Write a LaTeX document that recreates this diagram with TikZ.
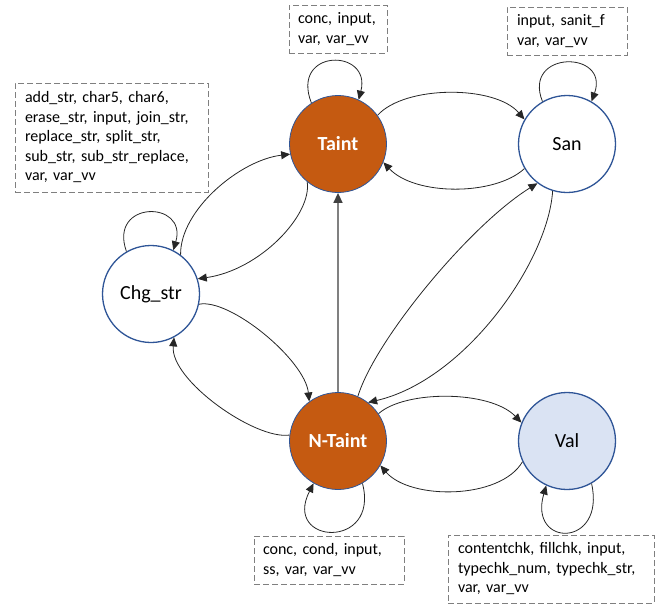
\documentclass[tikz,border=0pt]{standalone}
\usepackage{fontspec}
\setmainfont{Carlito}
\usetikzlibrary{arrows.meta}
\definecolor{orng}{HTML}{C55A11}
\definecolor{bord}{HTML}{2F5597}
\definecolor{valf}{HTML}{DAE3F3}
\definecolor{edgec}{HTML}{262626}
\definecolor{boxc}{HTML}{7F7F7F}
\definecolor{vline}{HTML}{808080}
\begin{document}
\begin{tikzpicture}[x=1pt,y=-1pt,
  state/.style={circle, minimum size=97pt, inner sep=0pt, font=\fontsize{20}{24}\selectfont},
  whitestate/.style={state, draw=bord, line width=1.3pt, fill=white},
  taintstate/.style={state, draw=bord, line width=0.8pt, fill=orng, text=white, font=\fontsize{20}{24}\selectfont\bfseries},
  valstate/.style={state, draw=bord, line width=1.3pt, fill=valf},
  labelbox/.style={draw=boxc, dash pattern=on 6pt off 3pt, line width=0.9pt, rectangle, inner sep=0pt, align=left, font=\fontsize{16}{19.5}\selectfont},
  edge/.style={draw=edgec, line width=0.8pt, -{Triangle[length=9pt,width=8pt]}},
  vedge/.style={draw=vline, line width=1.5pt, -{Triangle[length=10pt,width=9pt,color=black!75]}},
]
\useasboundingbox (0,0) rectangle (669,608);

% states
\node[taintstate] (T) at (338,144) {Taint};
\node[whitestate] (S) at (567,144) {San};
\node[whitestate] (C) at (151,294) {Chg\_str};
\node[taintstate] (N) at (338,441) {N-Taint};
\node[valstate] (V) at (567,441) {Val};

% label boxes
\node[labelbox, minimum width=193pt, minimum height=109pt, text width=173pt] (bc) at (111.5,137.5)
  {add\_str, char5, char6,\\erase\_str, input, join\_str,\\replace\_str, split\_str,\\sub\_str, sub\_str\_replace,\\var, var\_vv};
\node[labelbox, minimum width=98pt, minimum height=48pt, text width=80pt] (bt) at (338,29)
  {conc, input,\\var, var\_vv};
\node[labelbox, minimum width=120pt, minimum height=48pt, text width=100pt] (bs) at (567,31)
  {input, sanit\_f\\var, var\_vv};
\node[labelbox, minimum width=150pt, minimum height=48pt, text width=132pt] (bn) at (329,560)
  {conc, cond, input,\\ss, var, var\_vv};
\node[labelbox, minimum width=206pt, minimum height=68pt, text width=186pt] (bv) at (551,569)
  {contentchk, fillchk, input,\\typechk\_num, typechk\_str,\\var, var\_vv};

% self loops
\draw[edge] (T.123) .. controls (290,48) and (372,48) .. (T.65);
\draw[edge] (S.120) .. controls (522,50) and (610,50) .. (S.60);
\draw[edge] (C.120) .. controls (108,200) and (188,200) .. (C.63);
\draw[edge] (N.-60) .. controls (380,550) and (282,545) .. (N.-120);
\draw[edge] (V.-60) .. controls (606,548) and (528,548) .. (V.-115);

% transitions
\draw[edge] (T.36) .. controls (405,85) and (495,85) .. (S.150);
\draw[edge] (S.210) .. controls (495,196) and (415,196) .. (T.-22);
\draw[edge] (C.53) .. controls (180,210) and (240,160) .. (T.192);
\draw[edge] (T.231) .. controls (312,215) and (260,270) .. (C.18);
\draw[edge] (C.-12) .. controls (230,298) and (305,360) .. (N.126);
\draw[edge] (N.173) .. controls (255,440) and (170,380) .. (C.-62);
\draw[vedge] (N.north) -- (T.south);
\draw[edge] (N.66) .. controls (375,340) and (470,225) .. (S.233);
\draw[edge] (S.253) .. controls (548,262) and (465,380) .. (N.52);
\draw[edge] (N.34) .. controls (405,390) and (490,390) .. (V.158);
\draw[edge] (V.205) .. controls (500,500) and (410,500) .. (N.-30);
\end{tikzpicture}
\end{document}
